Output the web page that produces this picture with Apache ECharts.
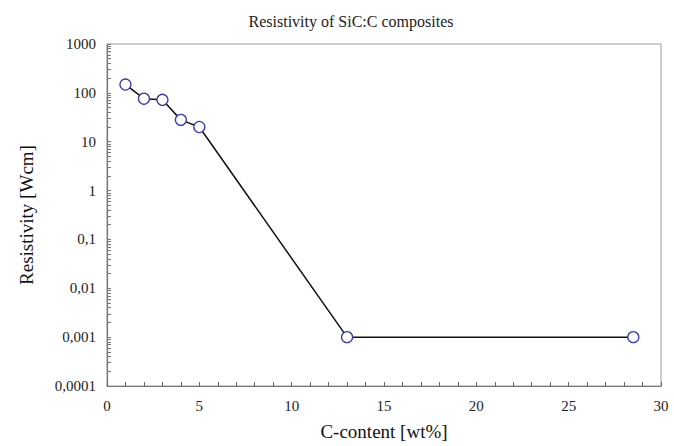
<!DOCTYPE html>
<html>
<head>
<meta charset="utf-8">
<script src="https://cdn.jsdelivr.net/npm/echarts@6/dist/echarts.min.js"></script>
<style>
  html, body { margin: 0; padding: 0; background: #fff; }
  #main { width: 674px; height: 446px; }
</style>
</head>
<body>
<div id="main"></div>
<script>
// C-content (wt%) and resistivity (Ohm cm)
var carbon = [1, 2, 3, 4, 5, 13, 28.5];
var resistivity = [148, 76, 72, 28, 20, 0.001, 0.001];
var xTicks = [0, 5, 10, 15, 20, 25, 30];
var yTicks = [0.0001, 0.001, 0.01, 0.1, 1, 10, 100, 1000];

var font = '"Liberation Serif", "DejaVu Serif", serif';

// decades plus minor ticks 2..9 inside each decade
var allYTicks = [];
for (var i = 0; i < yTicks.length; i++) {
  allYTicks.push(yTicks[i]);
  if (i < yTicks.length - 1) {
    for (var k = 2; k <= 9; k++) allYTicks.push(+(yTicks[i] * k).toPrecision(3));
  }
}

function commaLabel(v) {
  return String(+v.toPrecision(3)).replace('.', ',');
}

var chart = echarts.init(document.getElementById('main'), null, { renderer: 'svg' });
chart.setOption({
  animation: false,
  backgroundColor: '#fff',
  title: {
    text: 'Resistivity of SiC:C composites',
    left: 346, top: 8, textAlign: 'center',
    textStyle: { fontFamily: font, fontSize: 16, fontWeight: 'normal', color: '#222' }
  },
  grid: { left: 107, top: 44, width: 554, height: 346, show: true, borderColor: '#9a9a9a', borderWidth: 1 },
  xAxis: {
    type: 'value', min: xTicks[0], max: xTicks[xTicks.length - 1], interval: 5,
    name: 'C-content [wt%]', nameLocation: 'middle', nameGap: 36,
    nameTextStyle: { fontFamily: font, fontSize: 19, color: '#111' },
    axisLine: { lineStyle: { color: '#777', width: 1.2 } },
    axisTick: { show: true, inside: true, length: 4, lineStyle: { color: '#666' } },
    minorTick: { show: true, splitNumber: 5, length: 4, lineStyle: { color: '#666' } },
    axisLabel: { fontFamily: font, fontSize: 15, color: '#222', margin: 12 },
    splitLine: { show: false }
  },
  yAxis: {
    type: 'log', logBase: 10, min: yTicks[0], max: yTicks[yTicks.length - 1],
    name: 'Resistivity [Wcm]', nameLocation: 'middle', nameGap: 71,
    nameTextStyle: { fontFamily: font, fontSize: 19, color: '#111' },
    axisLine: { show: true, lineStyle: { color: '#777', width: 1.2 } },
    axisTick: { show: true, inside: true, length: 4, customValues: allYTicks, lineStyle: { color: '#777' } },
    axisLabel: { fontFamily: font, fontSize: 15, color: '#222', margin: 11, customValues: yTicks, formatter: commaLabel },
    splitLine: { show: false }
  },
  series: [{
    type: 'line',
    data: carbon.map(function (c, i) { return [c, resistivity[i]]; }),
    symbol: 'circle', symbolSize: 11,
    lineStyle: { color: '#111', width: 1.5 },
    itemStyle: { color: '#fff', borderColor: '#3a3aaa', borderWidth: 1.3 }
  }]
});
</script>
</body>
</html>
